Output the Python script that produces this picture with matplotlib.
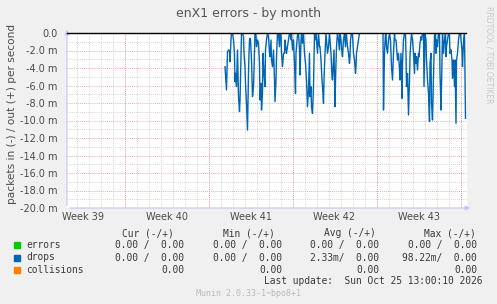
#!/usr/bin/env python3
import numpy as np
import matplotlib
matplotlib.use("Agg")
import matplotlib.pyplot as plt
from matplotlib.patches import Rectangle

# time axis: hours relative to last update, 2 h per pixel, 400 px wide
hours_span = 800
week_edges = [-685, -517, -349, -181, -13]
week_labels = ["Week 39", "Week 40", "Week 41", "Week 42", "Week 43"]

# drops (in), milli-packets per second, drawn negative
drops_hours_a = [-484, -481, -479, -477, -475, -474, -472, -471, -469, -467, -465, -464, -463,
                 -461, -459, -457, -455, -454, -453, -451, -449, -447, -446, -444, -443, -441,
                 -439, -437, -436, -435, -434, -433, -431, -429, -427, -426, -424, -422, -421,
                 -419, -417, -415, -414, -412, -411, -409, -408, -406, -404, -403, -401, -399,
                 -397, -395, -394, -392, -391, -389, -387, -385, -384, -382, -381, -379, -377,
                 -375, -374, -372, -371, -369, -367, -365, -364, -362, -361, -359, -357, -355,
                 -354, -352, -351, -349, -347, -345, -343, -342, -341, -339, -337, -335, -334,
                 -332, -331, -329, -327, -325, -323, -321, -319, -317, -315, -314, -312, -311,
                 -309, -307, -305, -304, -302, -301, -299, -297, -295, -294, -292, -290, -289,
                 -287, -286, -284, -282, -281, -279, -277, -275, -274, -272, -270, -269, -267,
                 -266, -264, -263, -261, -259, -257, -255, -254, -252, -250, -249, -247, -245,
                 -243, -242, -241, -239, -237, -235, -234, -233, -231, -229, -227, -225, -223,
                 -222, -221, -219, -217, -215]
drops_vals_a = [-3.85, -6.51, -2.13, -1.94, -2.02, -3.28, -0.80, 0, 0, -0.80, -2.32, -5.56, -4.61,
                -6.13, -1.94, -7.28, -8.99, -7.66, -5.37, 0, 0, -0.42, -2.32, -3.85, -5.75, -8.04,
                -11.09, -4.61, -2.32, -0.80, -0.61, -0.80, -3.09, -7.28, -6.13, -4.23, 0, -0.23, -1.56,
                -0.80, -1.18, -3.47, -7.66, -5.75, -8.80, -6.90, -2.32, -4.61, -6.13, -1.94, -0.80, 0,
                -0.42, -2.32, -2.70, -0.80, -3.09, -3.85, -1.94, -5.37, -7.85, -5.37, -2.70, 0, -0.23,
                -1.56, 0, -0.23, -2.32, -3.85, -2.32, -2.32, -0.80, -1.94, -2.32, -1.56, -0.80, 0,
                0, -0.80, 0, -1.94, -0.80, -3.47, -6.90, -2.32, -1.56, -0.23, 0, -1.94, -4.80,
                -0.80, 0, -1.18, 0, -2.32, -3.47, -5.37, -8.42, -6.51, -2.32, -7.28, -6.13, -8.42,
                -9.18, -6.13, 0, -0.80, 0, -0.80, -2.32, 0, -1.56, -1.56, -3.09, -5.37, -6.13,
                -8.04, -5.37, -2.32, 0, -0.80, -2.32, -1.56, 0, -0.80, -2.32, -4.99, -5.37, -3.09,
                -1.94, -8.42, -5.37, -1.56, 0, -0.80, -1.94, 0, -0.80, -2.32, -2.70, -0.80, 0,
                -1.56, 0, -0.23, -1.56, -2.32, -3.47, -2.70, -0.80, 0, -0.23, -2.32, -3.09, -4.61,
                -3.85, -2.32, -1.56, -0.80, 0]

drops_hours_b = [-168, -167, -165, -163, -162, -161, -159, -157, -155, -153, -152, -151, -149,
                 -147, -145, -144, -142, -141, -139, -137, -135, -134, -132, -130, -129, -127,
                 -125, -123, -122, -121, -119, -117, -115, -114, -113, -111, -109, -107, -105,
                 -104, -102, -101, -99, -97, -96, -94, -92, -91, -89, -87, -86, -84, -82, -81,
                 -79, -77, -75, -74, -72, -71, -69, -67, -65, -63, -62, -61, -59, -57, -55, -54,
                 -52, -51, -49, -47, -45, -43, -42, -41, -39, -37, -35, -34, -32, -30, -29, -27,
                 -25, -24, -22, -21, -19, -17, -15, -13, -12, -10, -9, -7, -5, -3]
drops_vals_b = [0, -8.80, -2.32, 0, 0, -1.56, -2.32, -0.80, 0, -0.80, -2.32, -3.85, -5.37,
                -2.32, 0, -0.80, -0.80, -1.56, -3.09, -2.32, -4.23, -5.37, -2.32, -7.47, -3.47, -0.80,
                0, -0.23, -2.32, -6.13, -4.61, -9.37, -5.37, -2.70, -1.56, 0, -0.80, -2.32, -4.61,
                -2.32, -3.47, -2.70, -4.23, -2.32, -2.70, -1.18, -0.42, -0.80, 0, 0, -6.13, 0, -0.80, -3.09,
                -5.37, -6.90, -10.13, -3.47, -2.32, -8.04, -9.94, -4.99, -0.23, 0, -2.32, -0.80, -1.56, 0, 0, -4.61,
                -8.80, -6.13, 0, -2.32, -0.80, 0, -2.70, -1.56, -0.80, 0, -0.23, -2.32, -1.94, -3.09, -5.18, -3.09,
                -6.13, -3.09, -10.32, -3.09, -2.32, -0.80, 0, 0, -0.80, -1.94, -3.85, -1.00, 0, -9.75]

# out direction is zero the whole time
out_hours = [-800, -3]
out_vals = [0, 0]

yticks = [0, -2, -4, -6, -8, -10, -12, -14, -16, -18, -20]

legend_names = ["errors", "drops", "collisions"]
legend_colors = ["#00cc00", "#0066b3", "#ff8000"]
cur_vals = ["0.00 /  0.00", "0.00 /  0.00", "0.00"]
min_vals = ["0.00 /  0.00", "0.00 /  0.00", "0.00"]
avg_vals = ["0.00 /  0.00", "2.33m/  0.00", "0.00"]
max_vals = ["0.00 /  0.00", "98.22m/  0.00", "0.00"]

W, H = 497, 304
fig = plt.figure(figsize=(W / 100, H / 100), dpi=100, facecolor="#f0f0f0")
ax = fig.add_axes([67 / W, (H - 208) / H, 400 / W, 175 / H], facecolor="white")

grid_gray = "#c8c8c8"
grid_red = "#f09090"
dots = (0, (1, 1.5))

# minor grid: every day / every 1.0 m
for d in range(week_edges[-1], -hours_span, -24):
    ax.axvline(d, color=grid_gray, lw=0.6, ls=dots, zorder=1)
for v in range(-19, 0, 2):
    ax.axhline(v, color=grid_gray, lw=0.6, ls=dots, zorder=1)
# major grid
for e in week_edges:
    ax.axvline(e, color=grid_red, lw=0.6, ls=dots, zorder=2)
for v in yticks[1:-1]:
    ax.axhline(v, color=grid_red, lw=0.6, ls=dots, zorder=2)

ax.plot(drops_hours_a, drops_vals_a, color="#0066b3", lw=1.0, zorder=3)
ax.plot(drops_hours_b, drops_vals_b, color="#0066b3", lw=1.0, zorder=3)
ax.plot(out_hours, out_vals, color="black", lw=1.0, zorder=4, clip_on=False)

ax.set_xlim(-hours_span, 0)
ax.set_ylim(-20, 0)
for s in ax.spines.values():
    s.set_visible(False)

ax.set_yticks(yticks)
ax.set_yticklabels(["0.0" if t == 0 else f"{t:.1f} m" for t in yticks])
ax.set_xticks([e - 84 for e in week_edges])
ax.set_xticklabels(week_labels)
ax.tick_params(length=0, labelsize=7, colors="#4a4a4a")
ax.tick_params(axis="y", pad=7)
ax.tick_params(axis="x", pad=3)

axis_col = "#c4c4f4"
ax.annotate("", xy=(1 + 6 / 400, 0), xytext=(0, 0), xycoords="axes fraction",
            arrowprops=dict(arrowstyle="-|>", color=axis_col, lw=0.8, mutation_scale=7),
            annotation_clip=False)
ax.annotate("", xy=(0, 1 + 6 / 175), xytext=(0, 0), xycoords="axes fraction",
            arrowprops=dict(arrowstyle="-|>", color=axis_col, lw=0.8, mutation_scale=7),
            annotation_clip=False)

def fx(px):
    return px / W

def fy(py):
    return 1 - py / H

fig.text(fx(248), fy(14), "enX1 errors - by month", ha="center", va="center",
         fontsize=9, color="#555555")
fig.text(fx(12), fy(114), "packets in (-) / out (+) per second", rotation=90,
         ha="center", va="center", fontsize=7.6, color="#4a4a4a")
fig.text(fx(489), fy(6), "RRDTOOL / TOBI OETIKER", rotation=270, ha="center", va="top",
         fontsize=5.5, color="#c8c8c8")

mono = dict(family="DejaVu Sans Mono", fontsize=6.9, color="#3a3a3a", va="center")
headers = ["Cur (-/+)", "Min (-/+)", "Avg (-/+)", "Max (-/+)"]
header_x = [174, 275, 376, 476]
value_x = [184, 282, 379, 477]
for hx, hd in zip(header_x, headers):
    fig.text(fx(hx), fy(233.5), hd, ha="right", **mono)

rows_y = [245, 257.5, 269.7]
for i, name in enumerate(legend_names):
    y = rows_y[i]
    fig.patches.append(Rectangle((fx(14), fy(y + 3)), 6 / W, 6 / H,
                                 transform=fig.transFigure, color=legend_colors[i]))
    fig.text(fx(26.5), fy(y), name, ha="left", **mono)
    for vx, col in zip(value_x, [cur_vals, min_vals, avg_vals, max_vals]):
        fig.text(fx(vx), fy(y), col[i], ha="right", **mono)

fig.text(fx(483), fy(281.5), "Last update:  Sun Oct 25 13:00:10 2026", ha="right", **mono)
fig.text(fx(248), fy(293), "Munin 2.0.33-1~bpo8+1", ha="center", va="center",
         family="DejaVu Sans Mono", fontsize=6, color="#bbbbbb")

fig.savefig("out.png", dpi=100, facecolor=fig.get_facecolor())
